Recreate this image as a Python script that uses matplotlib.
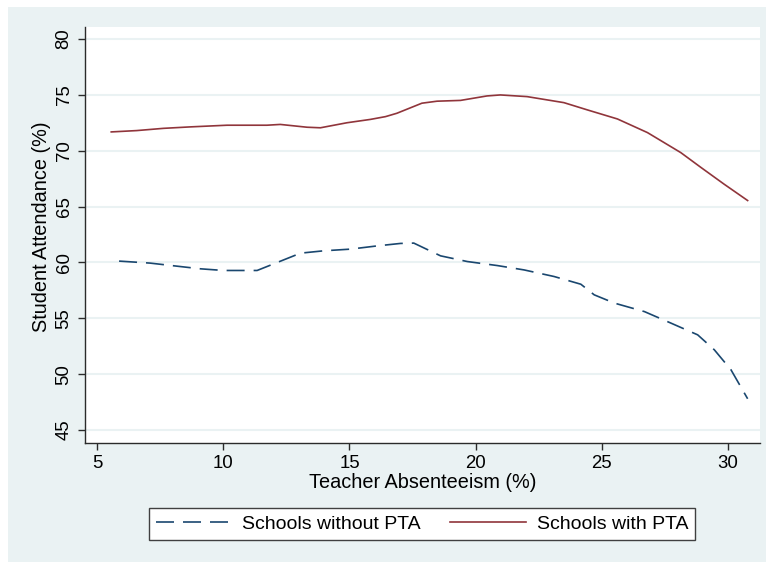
import matplotlib
matplotlib.use("Agg")
import matplotlib.pyplot as plt
from matplotlib.patches import Rectangle

plt.rcParams['font.family'] = ['Liberation Sans', 'DejaVu Sans']

## Teacher absenteeism (%) and student attendance (%)
x_without = [5.87, 7.1, 8.03, 9.09, 10.01, 11.34, 12.13, 13.06, 13.98, 15.04, 16.1,
             17.02, 17.55, 18.61, 19.67, 20.86, 21.92, 23.11, 24.17, 24.7, 25.5,
             26.69, 27.74, 28.8, 29.46, 30.12, 30.78]
y_without = [60.12, 59.94, 59.7, 59.43, 59.28, 59.28, 59.99, 60.83, 61.04, 61.19, 61.48,
             61.7, 61.73, 60.59, 60.08, 59.72, 59.33, 58.74, 58.05, 57.1, 56.36,
             55.6, 54.57, 53.52, 52.18, 50.39, 47.8]

x_with = [5.56, 6.57, 7.63, 8.69, 10.15, 10.94, 11.73, 12.26, 13.32, 13.85, 14.9,
          15.83, 16.43, 16.88, 17.87, 18.47, 19.4, 20.45, 20.98, 22.04, 23.5,
          24.43, 25.62, 26.81, 28.13, 28.93, 29.85, 30.78]
y_with = [71.68, 71.8, 72.0, 72.13, 72.28, 72.28, 72.28, 72.35, 72.1, 72.05, 72.5,
          72.8, 73.05, 73.35, 74.25, 74.43, 74.5, 74.9, 74.99, 74.84, 74.3,
          73.65, 72.84, 71.62, 69.83, 68.5, 67.0, 65.54]

xticks = [5, 10, 15, 20, 25, 30]
yticks = [45, 50, 55, 60, 65, 70, 75, 80]

bg = '#EAF2F3'
blue = '#1A476F'
red = '#90353B'
axcol = '#2B2B2B'

fig = plt.figure(figsize=(7.66, 5.62), dpi=100)
fig.patch.set_facecolor('white')
## Stata-like graph region, behind the axes
fig.patches.append(Rectangle((8 / 766, 0), 1 - 8 / 766, 1 - 7 / 562,
                             transform=fig.transFigure, facecolor=bg,
                             edgecolor='none', zorder=-10))

ax = fig.add_axes([85 / 766, 1 - 443 / 562, 675 / 766, 416 / 562])
ax.set_zorder(1)
ax.set_facecolor('white')

ax.plot(x_without, y_without, color=blue, lw=1.2, dashes=(10.8, 5.4),
        label='Schools without PTA')
ax.plot(x_with, y_with, color=red, lw=1.2, label='Schools with PTA')

ax.set_xlim(4.52, 31.27)
ax.set_ylim(43.84, 81.07)
ax.set_xticks(xticks)
ax.set_yticks(yticks)
ax.yaxis.grid(True, color=bg, lw=1.5)
ax.set_axisbelow(True)

for s in ['top', 'right']:
    ax.spines[s].set_visible(False)
for s in ['left', 'bottom']:
    ax.spines[s].set_color(axcol)
    ax.spines[s].set_linewidth(1.0)

ax.tick_params(axis='both', colors=axcol, labelcolor='black', length=5,
               width=1.0, labelsize=13.4, pad=4)
for lab in ax.get_yticklabels():
    lab.set_rotation(90)
    lab.set_va('center')

ax.set_xlabel('Teacher Absenteeism (%)', fontsize=14.3, labelpad=0)
ax.set_ylabel('Student Attendance (%)', fontsize=14.3, labelpad=2)
ax.yaxis.set_label_coords(-0.051, 0.52)

leg = fig.legend(loc='center', bbox_to_anchor=(422 / 766, 1 - 524 / 562), ncol=2,
                 fontsize=14, frameon=True, fancybox=False, handlelength=3.9,
                 columnspacing=1.5, borderpad=0.36, handletextpad=0.55)
leg.get_frame().set_edgecolor('#404040')
leg.get_frame().set_linewidth(1.0)
leg.get_frame().set_alpha(1)

fig.savefig('out.png', dpi=100, facecolor=fig.get_facecolor())
